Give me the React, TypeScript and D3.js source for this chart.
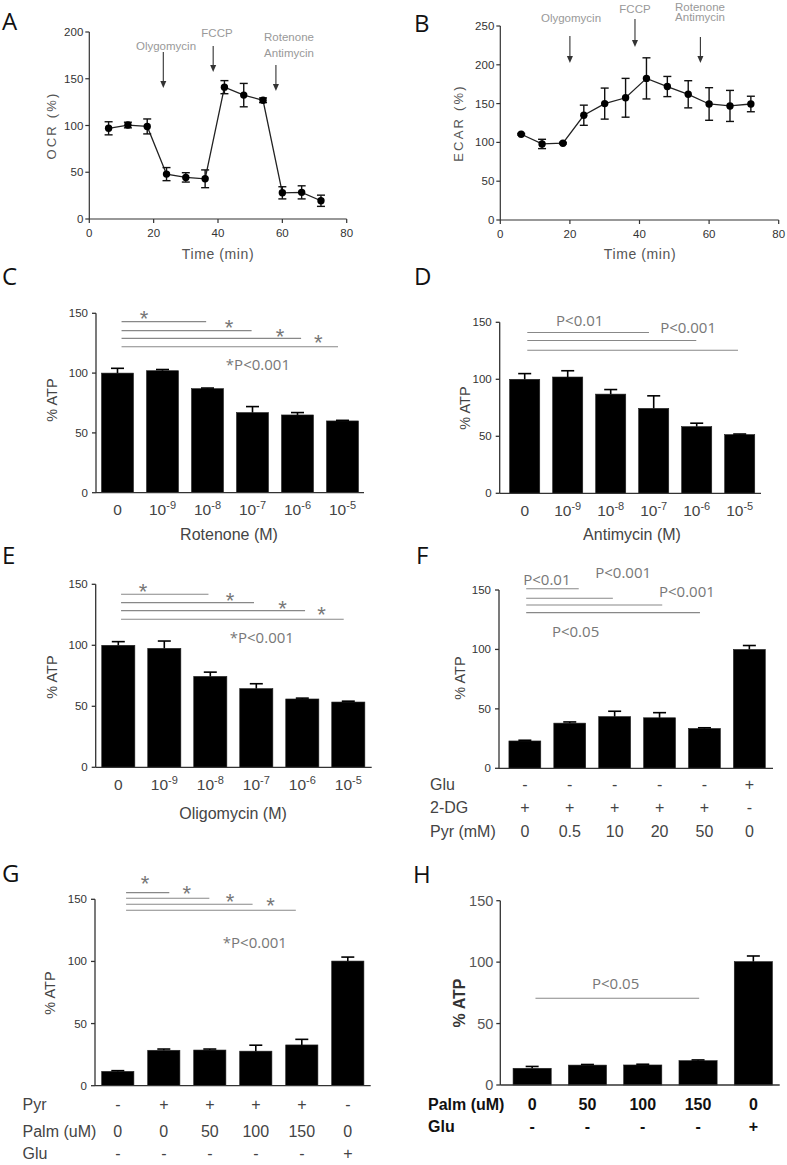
import React from "react";
import * as d3 from "d3";

// ---------- data ----------
const timePoints = [6, 12, 18, 24, 30, 36, 42, 48, 54, 60, 66, 72];
const ocrMean = [97, 100.5, 99, 48, 44.5, 43, 141, 132.5, 127, 28, 28.5, 19.5];
const ocrErr = [7, 3, 8, 7, 5, 9.5, 7, 12.5, 2.5, 6.5, 7, 6];
const ecarMean = [110.5, 98, 99, 135, 150, 157.5, 182.5, 172, 162, 149.5, 147, 149.5];
const ecarErr = [1, 6, 1, 13, 20, 25, 26.5, 13, 17.5, 21, 20, 10];
const injectionNames = [["Olygomycin"], ["FCCP"], ["Rotenone", "Antimycin"]];
const injectionTimesA = [23, 38.5, 58];
const injectionTimesB = [20, 38.7, 57.5];
const timeTicks = [0, 20, 40, 60, 80];
const ocrTicks = [0, 50, 100, 150, 200];
const ecarTicks = [0, 50, 100, 150, 200, 250];
const atpTicks = [0, 50, 100, 150];

const concLabels = ["0", "10^-9", "10^-8", "10^-7", "10^-6", "10^-5"];
const rotenoneMean = [100, 102, 87, 67, 65, 60];
const rotenoneErr = [4, 1, 0.5, 5, 2, 0.5];
const antimycinMean = [100, 102, 87, 74.5, 58.5, 51.5];
const antimycinErr = [5, 5.5, 4, 11, 3, 0.5];
const oligomycinMean = [100, 97.5, 74.5, 64.5, 56, 53.5];
const oligomycinErr = [3, 6, 3.5, 4, 0.7, 0.7];

const pyrMean = [23, 38, 43.5, 42.5, 33.5, 100];
const pyrErr = [0.6, 1, 4.5, 4.3, 0.6, 3.3];
const gluF = ["-", "-", "-", "-", "-", "+"];
const dgF = ["+", "+", "+", "+", "+", "-"];
const pyrF = ["0", "0.5", "10", "20", "50", "0"];

const palmPyrMean = [11.5, 28.5, 28.7, 27.8, 32.8, 100.3];
const palmPyrErr = [0.6, 1, 0.8, 4.8, 4.5, 3.2];
const pyrG = ["-", "+", "+", "+", "+", "-"];
const palmG = ["0", "0", "50", "100", "150", "0"];
const gluG = ["-", "-", "-", "-", "-", "+"];

const palmMean = [13.6, 16.2, 16.3, 19.8, 100.4];
const palmErr = [1.5, 0.5, 0.6, 0.6, 4.6];
const palmH = ["0", "50", "100", "150", "0"];
const gluH = ["-", "-", "-", "-", "+"];

// significance brackets: [from (bar units), to (bar units), y value]
const sigC = [[0.09, 1.97, 143], [0.09, 2.98, 135.5], [0.09, 4.08, 129], [0.09, 4.9, 122]];
const starsC = [[0.59, 149.4], [2.48, 141.9], [3.61, 134.4], [4.46, 129.3]];
const sigD = [[0.06, 2.89, 141], [0.06, 3.99, 134], [0.06, 4.96, 125.5]];
const sigE = [[0.06, 1.96, 141.8], [0.06, 2.95, 135], [0.06, 4.06, 128.4], [0.06, 4.9, 121.3]];
const starsE = [[0.54, 148], [2.43, 140.4], [3.57, 133.6], [4.42, 129]];
const sigF = [[0.03, 1.2, 151], [0.03, 1.96, 143], [0.03, 3.06, 137.4], [0.03, 3.9, 131]];
const sigG = [[0.18, 1.12, 155.4], [0.18, 1.99, 150.9], [0.18, 2.93, 146], [0.18, 3.87, 141.2]];
const starsG = [[0.59, 166.2], [1.5, 158.1], [2.44, 152.2], [3.32, 149]];
const sigH = [[0.06, 3.02, 70.6]];

// p-value texts: [text, bar units, y value]
const pTextC = [["*P<0.001", 3.12, 102.6]];
const pTextD = [["P<0.01", 1.28, 146.8], ["P<0.001", 3.8, 140.9]];
const pTextE = [["*P<0.001", 3.12, 101.6]];
const pTextF = [["P<0.01", 0.49, 154.3], ["P<0.001", 2.19, 160], ["P<0.001", 3.61, 144.4], ["P<0.05", 1.13, 110.8]];
const pTextG = [["*P<0.001", 2.98, 110.6]];
const pTextH = [["P<0.05", 1.51, 77.9]];

// ---------- styles ----------
const SANS = "'Liberation Sans', Arial, Helvetica, sans-serif";
const SOFT = "'Open Sans', 'Noto Sans', sans-serif";
const AXIS = "#333";

function Letter({ x, y, t }: any) {
  return (
    <text x={x} y={y} fontFamily={SOFT} fontSize={24} fill="#111">
      {t}
    </text>
  );
}

function LinePanel(p: any) {
  const x = d3.scaleLinear().domain([0, 80]).range([p.left, p.right]);
  const y = d3.scaleLinear().domain([0, p.yMax]).range([p.bottom, p.top]);
  const line = d3
    .line<number>()
    .x((_, i) => x(p.times[i]))
    .y((d) => y(d));
  return (
    <g>
      <line x1={x(0)} x2={x(80)} y1={y(0)} y2={y(0)} stroke={AXIS} strokeWidth={1.2} />
      <line x1={x(0)} x2={x(0)} y1={y(0)} y2={y(p.yMax)} stroke={AXIS} strokeWidth={1.2} />
      {p.yTicks.map((t: number) => (
        <g key={"y" + t}>
          <line x1={x(0) - 4} x2={x(0)} y1={y(t)} y2={y(t)} stroke={AXIS} strokeWidth={1.2} />
          <text x={x(0) - 6} y={y(t) + 4} textAnchor="end" fontFamily={SANS} fontSize={11.5} fill="#333">
            {t}
          </text>
        </g>
      ))}
      {timeTicks.map((t) => (
        <g key={"x" + t}>
          <line x1={x(t)} x2={x(t)} y1={y(0)} y2={y(0) + 4} stroke={AXIS} strokeWidth={1.2} />
          <text x={x(t)} y={y(0) + 18} textAnchor="middle" fontFamily={SANS} fontSize={11.5} fill="#333">
            {t}
          </text>
        </g>
      ))}
      <text
        transform={`translate(${p.yTitleX},${(y(0) + y(p.yMax)) / 2}) rotate(-90)`}
        textAnchor="middle"
        fontFamily={SANS}
        fontSize={13}
        letterSpacing={2.2}
        fill="#555"
      >
        {p.yTitle}
      </text>
      <text x={p.xTitleX} y={p.xTitleY} textAnchor="middle" fontFamily={SANS} fontSize={14} letterSpacing={0.6} fill="#555">
        Time (min)
      </text>
      <path d={line(p.means) || ""} fill="none" stroke="#222" strokeWidth={1.3} />
      {p.means.map((m: number, i: number) => {
        const cx = x(p.times[i]);
        const e = p.errs[i];
        return (
          <g key={"pt" + i}>
            <line x1={cx} x2={cx} y1={y(m - e)} y2={y(m + e)} stroke="#111" strokeWidth={1.4} />
            <line x1={cx - 4} x2={cx + 4} y1={y(m + e)} y2={y(m + e)} stroke="#111" strokeWidth={1.4} />
            <line x1={cx - 4} x2={cx + 4} y1={y(m - e)} y2={y(m - e)} stroke="#111" strokeWidth={1.4} />
            <circle cx={cx} cy={y(m)} r={3.7} fill="#000" />
          </g>
        );
      })}
      {p.injTimes.map((t: number, i: number) => {
        const ax = x(t);
        const a = p.arrows[i];
        return (
          <g key={"inj" + i}>
            {injectionNames[i].map((s, j) => (
              <text key={j} x={a.tx} y={a.ty[j]} textAnchor="middle" fontFamily={SANS} fontSize={11.5} fill="#999">
                {s}
              </text>
            ))}
            <line x1={ax} x2={ax} y1={a.y1} y2={a.y2 - 5} stroke="#333" strokeWidth={1.1} />
            <path d={`M${ax - 3},${a.y2 - 7}L${ax + 3},${a.y2 - 7}L${ax},${a.y2}Z`} fill="#333" />
          </g>
        );
      })}
    </g>
  );
}

function ConcLabel({ x, y, label }: any) {
  const parts = label.split("^");
  return (
    <text x={x} y={y} textAnchor="middle" fontFamily={SANS} fontSize={15.5} fill="#444">
      <tspan>{parts[0]}</tspan>
      {parts[1] ? (
        <tspan dy={-6.5} fontSize={11}>
          {parts[1]}
        </tspan>
      ) : null}
    </text>
  );
}

function BarPanel(p: any) {
  const n = p.means.length;
  const x = d3
    .scaleBand<number>()
    .domain(d3.range(n))
    .range([p.r0, p.r1])
    .paddingInner(p.pad)
    .paddingOuter(p.pad / 2);
  const y = d3.scaleLinear().domain([0, 150]).range([p.y0, p.y150]);
  const bw = x.bandwidth();
  const cx = (i: number) => (x(i) as number) + bw / 2;
  const u = (v: number) => cx(0) + v * x.step();
  const tickFs = p.bigTicks ? 14.5 : 11.5;
  return (
    <g>
      {p.means.map((m: number, i: number) => (
        <g key={"b" + i}>
          <rect x={x(i)} y={y(m)} width={bw} height={y(0) - y(m)} fill="#000" stroke="#222" strokeWidth={0.6} />
          <line x1={cx(i)} x2={cx(i)} y1={y(m)} y2={y(m + p.errs[i])} stroke="#000" strokeWidth={1.6} />
          <line x1={cx(i) - 6.5} x2={cx(i) + 6.5} y1={y(m + p.errs[i])} y2={y(m + p.errs[i])} stroke="#000" strokeWidth={1.6} />
        </g>
      ))}
      <line x1={p.axisX} x2={p.axisEnd} y1={y(0)} y2={y(0)} stroke={AXIS} strokeWidth={1.3} />
      <line x1={p.axisX} x2={p.axisX} y1={y(0)} y2={y(150)} stroke={AXIS} strokeWidth={1.3} />
      {atpTicks.map((t) => (
        <g key={"t" + t}>
          <line x1={p.axisX - 4} x2={p.axisX} y1={y(t)} y2={y(t)} stroke={AXIS} strokeWidth={1.3} />
          <text
            x={p.axisX - (p.bigTicks ? 7 : 8)}
            y={y(t) + (p.bigTicks ? 5 : 4)}
            textAnchor="end"
            fontFamily={SANS}
            fontSize={tickFs}
            fill={p.bigTicks ? "#555" : "#333"}
          >
            {t}
          </text>
        </g>
      ))}
      <text
        transform={`translate(${p.yTitleX},${p.yTitleY}) rotate(-90)`}
        textAnchor="middle"
        fontFamily={SANS}
        fontSize={p.bigTicks ? 16 : 14.5}
        fontWeight={p.bigTicks ? 700 : 400}
        fill={p.bigTicks ? "#333" : "#444"}
      >
        % ATP
      </text>
      {p.sig.map((s: number[], i: number) => (
        <line key={"s" + i} x1={u(s[0])} x2={u(s[1])} y1={y(s[2])} y2={y(s[2])} stroke="#888" strokeWidth={1.1} />
      ))}
      {(p.stars || []).map((s: number[], i: number) => (
        <text key={"st" + i} x={u(s[0])} y={y(s[1]) + 12} textAnchor="middle" fontFamily={SANS} fontSize={22} fill="#777">
          *
        </text>
      ))}
      {p.pTexts.map((s: any[], i: number) => (
        <text key={"p" + i} x={u(s[1])} y={y(s[2])} textAnchor="middle" fontFamily={SOFT} fontSize={15} fill="#777">
          {s[0]}
        </text>
      ))}
      {p.conc
        ? p.conc.map((c: string, i: number) => <ConcLabel key={"c" + i} x={cx(i)} y={p.concY} label={c} />)
        : null}
      {p.xTitle ? (
        <text x={p.xTitleX} y={p.xTitleY} textAnchor="middle" fontFamily={SANS} fontSize={16} fill="#444">
          {p.xTitle}
        </text>
      ) : null}
      {(p.rows || []).map((r: any, k: number) => (
        <g key={"r" + k}>
          <text
            x={p.rowX}
            y={p.rowY[k]}
            fontFamily={SANS}
            fontSize={16}
            fontWeight={p.bigTicks ? 700 : 400}
            fill={p.bigTicks ? "#111" : "#444"}
          >
            {r.label}
          </text>
          {r.values.map((v: string, i: number) => (
            <text
              key={i}
              x={cx(i)}
              y={p.rowY[k]}
              textAnchor="middle"
              fontFamily={SANS}
              fontSize={16}
              fontWeight={p.bigTicks ? 700 : 400}
              fill={p.bigTicks ? "#111" : "#444"}
            >
              {v}
            </text>
          ))}
        </g>
      ))}
    </g>
  );
}

export default function App() {
  return (
    <svg width={787} height={1165} style={{ position: "absolute", left: 0, top: 0, background: "#fff" }}>
      <rect x={0} y={0} width={787} height={1165} fill="#fff" />
      <Letter x={2} y={30} t="A" />
      <LinePanel
        left={89.3}
        right={346.7}
        top={32}
        bottom={219}
        yMax={200}
        yTicks={ocrTicks}
        times={timePoints}
        means={ocrMean}
        errs={ocrErr}
        injTimes={injectionTimesA}
        arrows={[
          { tx: 166, ty: [50], y1: 52, y2: 88 },
          { tx: 217, ty: [37], y1: 46, y2: 72 },
          { tx: 289, ty: [41, 57], y1: 65, y2: 91 },
        ]}
        yTitle="OCR (%)"
        yTitleX={56}
        xTitleX={218}
        xTitleY={259}
      />
      <Letter x={414} y={32} t="B" />
      <LinePanel
        left={500.3}
        right={778.7}
        top={26}
        bottom={220}
        yMax={250}
        yTicks={ecarTicks}
        times={timePoints}
        means={ecarMean}
        errs={ecarErr}
        injTimes={injectionTimesB}
        arrows={[
          { tx: 571, ty: [22], y1: 36, y2: 63 },
          { tx: 635, ty: [13], y1: 19, y2: 47 },
          { tx: 700, ty: [11, 21], y1: 37, y2: 63 },
        ]}
        yTitle="ECAR (%)"
        yTitleX={463}
        xTitleX={640}
        xTitleY={259}
      />

      <Letter x={2} y={285} t="C" />
      <BarPanel
        r0={95}
        r1={365}
        pad={0.29}
        axisX={96}
        axisEnd={364}
        y0={492.7}
        y150={313.3}
        means={rotenoneMean}
        errs={rotenoneErr}
        sig={sigC}
        stars={starsC}
        pTexts={pTextC}
        conc={concLabels}
        concY={515}
        xTitle="Rotenone (M)"
        xTitleX={229}
        xTitleY={540}
        yTitleX={57}
        yTitleY={400}
      />
      <Letter x={414} y={285} t="D" />
      <BarPanel
        r0={503.2}
        r1={761.2}
        pad={0.3}
        axisX={499.7}
        axisEnd={761}
        y0={493.3}
        y150={322.3}
        means={antimycinMean}
        errs={antimycinErr}
        sig={sigD}
        pTexts={pTextD}
        conc={concLabels}
        concY={516}
        xTitle="Antimycin (M)"
        xTitleX={632}
        xTitleY={540}
        yTitleX={470}
        yTitleY={408}
      />

      <Letter x={2} y={564} t="E" />
      <BarPanel
        r0={95.3}
        r1={371.3}
        pad={0.28}
        axisX={95.7}
        axisEnd={371.7}
        y0={767.3}
        y150={584.3}
        means={oligomycinMean}
        errs={oligomycinErr}
        sig={sigE}
        stars={starsE}
        pTexts={pTextE}
        conc={concLabels}
        concY={790}
        xTitle="Oligomycin (M)"
        xTitleX={233}
        xTitleY={819}
        yTitleX={57}
        yTitleY={677}
      />
      <Letter x={416} y={564} t="F" />
      <BarPanel
        r0={502.4}
        r1={771.8}
        pad={0.29}
        axisX={499}
        axisEnd={773}
        y0={768.3}
        y150={590}
        means={pyrMean}
        errs={pyrErr}
        sig={sigF}
        pTexts={pTextF}
        rows={[
          { label: "Glu", values: gluF },
          { label: "2-DG", values: dgF },
          { label: "Pyr (mM)", values: pyrF },
        ]}
        rowX={430}
        rowY={[790, 813, 837]}
        yTitleX={465}
        yTitleY={678}
      />

      <Letter x={2} y={882} t="G" />
      <BarPanel
        r0={94.8}
        r1={370.8}
        pad={0.3}
        axisX={95}
        axisEnd={370.7}
        y0={1085.7}
        y150={899.3}
        means={palmPyrMean}
        errs={palmPyrErr}
        sig={sigG}
        stars={starsG}
        pTexts={pTextG}
        rows={[
          { label: "Pyr", values: pyrG },
          { label: "Palm (uM)", values: palmG },
          { label: "Glu", values: gluG },
        ]}
        rowX={22.5}
        rowY={[1110, 1136.5, 1158.5]}
        yTitleX={55}
        yTitleY={993}
      />
      <Letter x={413} y={883} t="H" />
      <BarPanel
        r0={504.5}
        r1={781}
        pad={0.31}
        axisX={500.3}
        axisEnd={779.7}
        y0={1085}
        y150={900.7}
        means={palmMean}
        errs={palmErr}
        sig={sigH}
        pTexts={pTextH}
        bigTicks={true}
        rows={[
          { label: "Palm (uM)", values: palmH },
          { label: "Glu", values: gluH },
        ]}
        rowX={428}
        rowY={[1110, 1131.5]}
        yTitleX={465}
        yTitleY={1003}
      />
    </svg>
  );
}
